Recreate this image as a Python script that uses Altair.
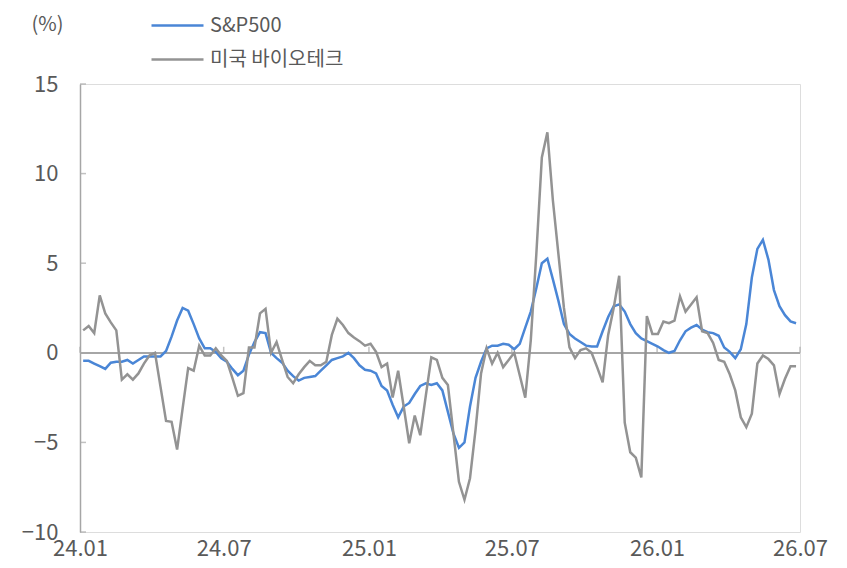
import altair as alt
import pandas as pd

# ---- data (weekly) ----
start_date = "2024-01-05"
series_names = ["S&P500", "미국 바이오테크"]

sp500 = [
    -0.45, -0.45, -0.6, -0.75, -0.9, -0.55, -0.5, -0.5, -0.4, -0.6,
    -0.4, -0.2, -0.2, -0.2, -0.2, 0.1, 0.9, 1.8, 2.5, 2.35,
    1.6, 0.8, 0.25, 0.25, 0.05, -0.3, -0.5, -0.9, -1.25, -1.0,
    -0.1, 0.6, 1.15, 1.1, 0.0, -0.3, -0.55, -1.0, -1.3, -1.55,
    -1.4, -1.35, -1.3, -1.0, -0.7, -0.4, -0.3, -0.2, 0.0, -0.3,
    -0.7, -0.95, -1.0, -1.15, -1.85, -2.1, -2.9, -3.6, -3.0, -2.8,
    -2.3, -1.85, -1.7, -1.8, -1.7, -2.1, -3.3, -4.5, -5.3, -5.0,
    -3.0, -1.4, -0.5, 0.25, 0.4, 0.4, 0.5, 0.45, 0.2, 0.5,
    1.4, 2.3, 3.6, 5.0, 5.25, 4.1, 2.9, 1.6, 1.05, 0.8,
    0.6, 0.4, 0.35, 0.35, 1.2, 2.0, 2.6, 2.7, 2.3, 1.6,
    1.1, 0.8, 0.65, 0.5, 0.35, 0.15, 0.0, 0.1, 0.7, 1.2,
    1.4, 1.55, 1.3, 1.15, 1.1, 0.95, 0.3, 0.05, -0.3, 0.2,
    1.6, 4.2, 5.8, 6.3, 5.2, 3.5, 2.6, 2.1, 1.75, 1.65,
]

biotech = [
    1.25, 1.5, 1.1, 3.2, 2.2, 1.7, 1.25, -1.5, -1.2, -1.5,
    -1.15, -0.6, -0.15, 0.0, -1.9, -3.8, -3.85, -5.4, -3.1, -0.85,
    -1.0, 0.4, -0.15, -0.15, 0.25, -0.15, -0.45, -1.4, -2.4, -2.25,
    0.3, 0.3, 2.2, 2.45, 0.0, 0.6, -0.4, -1.35, -1.7, -1.2,
    -0.8, -0.45, -0.7, -0.7, -0.5, 1.0, 1.9, 1.55, 1.1, 0.85,
    0.65, 0.4, 0.5, 0.05, -0.8, -0.6, -2.5, -1.0, -3.0, -5.05,
    -3.5, -4.6, -2.4, -0.25, -0.4, -1.4, -1.8, -4.5, -7.2, -8.2,
    -7.0, -4.3, -1.15, 0.25, -0.6, 0.0, -0.8, -0.4, 0.0, -1.25,
    -2.5, 0.7, 5.5, 10.9, 12.3, 8.5, 5.5, 2.5, 0.3, -0.3,
    0.15, 0.25, 0.0, -0.8, -1.65, 1.0, 2.5, 4.3, -3.9, -5.55,
    -5.85, -6.95, 2.05, 1.05, 1.05, 1.75, 1.65, 1.8, 3.15, 2.3,
    2.7, 3.1, 1.2, 1.1, 0.55, -0.4, -0.5, -1.2, -2.1, -3.6,
    -4.15, -3.4, -0.6, -0.15, -0.35, -0.7, -2.3, -1.45, -0.75, -0.75,
]

x_tick_labels = [(2024, 1), (2024, 7), (2025, 1), (2025, 7), (2026, 1), (2026, 7)]
y_ticks = [-10, -5, 0, 5, 10, 15]

# ---- styles ----
FONT = "Noto Sans CJK KR"
TEXT = "#595959"
AXIS = "#A6A6A6"
colors = ["#4A86D6", "#939393"]

dates = pd.date_range(start_date, periods=len(sp500), freq="7D").strftime("%Y-%m-%d")
df = pd.concat(
    [pd.DataFrame({"date": dates, "series": name, "value": vals})
     for name, vals in zip(series_names, [sp500, biotech])],
    ignore_index=True,
)
df["order"] = df["series"].map({n: i for i, n in enumerate(series_names)})

tick_dt = [alt.DateTime(year=y, month=m, date=1, utc=True) for y, m in x_tick_labels]
xdf = pd.DataFrame({"date": [f"{y}-{m:02d}-01" for y, m in x_tick_labels]})
ydf = pd.DataFrame({"value": y_ticks})

x_scale = alt.Scale(type="utc", domain=[tick_dt[0], tick_dt[-1]])
y_scale = alt.Scale(domain=[-10, 15], nice=False, zero=False)

x_axis = alt.Axis(
    values=tick_dt, format="%y.%m", domain=False, ticks=False, grid=False,
    labelFontSize=22, labelColor=TEXT, labelPadding=6, labelFlush=False,
    labelOverlap=False, title=None, labelFont=FONT,
)
y_axis = alt.Axis(
    values=y_ticks, domain=True, domainColor=AXIS, domainWidth=1.5,
    ticks=False, grid=False, labelFontSize=22, labelColor=TEXT,
    labelPadding=22, labelFont=FONT,
    title="(%)", titleAngle=0, titleX=-33, titleY=-60, titleAlign="center",
    titleBaseline="middle", titleFontSize=20, titleFontWeight="normal",
    titleColor=TEXT, titleFont=FONT,
)

X = alt.X("date:T", scale=x_scale, axis=x_axis)
Y = alt.Y("value:Q", scale=y_scale, axis=y_axis)

lines = alt.Chart(df).mark_line(strokeWidth=2.5).encode(
    x=X,
    y=Y,
    color=alt.Color(
        "series:N",
        scale=alt.Scale(domain=series_names, range=colors),
        legend=alt.Legend(
            orient="none", legendX=86, legendY=-70, title=None,
            symbolType="M-2.6,0H2.6", symbolSize=400, symbolStrokeWidth=2.5,
            labelFontSize=20, labelColor=TEXT, labelFont=FONT,
            labelOffset=21, rowPadding=12, padding=0,
        ),
    ),
    detail="series:N",
    order="order:Q",
)

zero_line = alt.Chart(df).mark_rule(color=AXIS, strokeWidth=1.5).encode(
    y=alt.datum(0)
)

x_ticks = alt.Chart(xdf).mark_tick(
    orient="vertical", size=6, thickness=1.5, yOffset=-3, color=AXIS
).encode(x=X, y=alt.datum(0))

y_tick_marks = alt.Chart(ydf).mark_tick(
    orient="horizontal", size=6, thickness=1.5, xOffset=3, color=AXIS
).encode(y=Y, x=alt.value(0))

chart = (
    alt.layer(zero_line, x_ticks, y_tick_marks, lines)
    .properties(
        width=720, height=448,
        autosize=alt.AutoSizeParams(type="none"),
        padding={"left": 72, "top": 76, "right": 39, "bottom": 28},
    )
    .configure_view(stroke=None)
    .configure(font=FONT)
)

chart.save("out.html", embed_options={"renderer": "svg", "actions": False})
